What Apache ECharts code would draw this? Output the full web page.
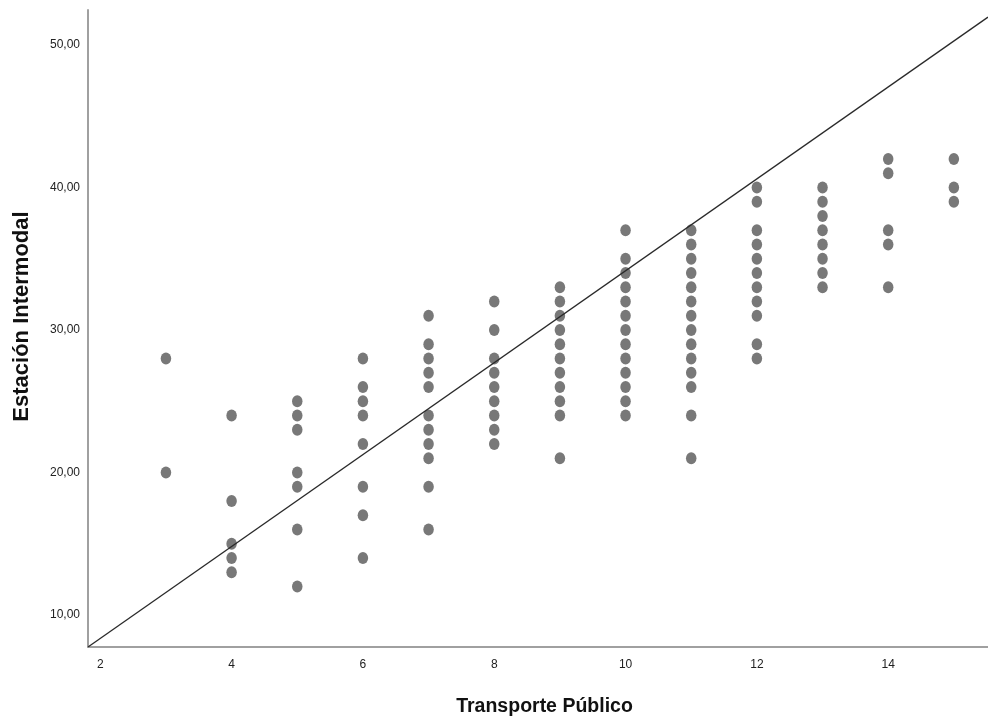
<!DOCTYPE html>
<html>
<head>
<meta charset="utf-8">
<script src="https://cdn.jsdelivr.net/npm/echarts@6/dist/echarts.min.js"></script>
<style>html,body{margin:0;padding:0;background:#fff}#c{width:988px;height:722px}</style>
</head>
<body>
<div id="c"></div>
<script>
// ---- data ----
var xCategories = [3, 4, 5, 6, 7, 8, 9, 10, 11, 12, 13, 14, 15];
var yAt3  = [28, 20];
var yAt4  = [24, 18, 15, 14, 13];
var yAt5  = [25, 24, 23, 20, 19, 16, 12];
var yAt6  = [28, 26, 25, 24, 22, 19, 17, 14];
var yAt7  = [31, 29, 28, 27, 26, 24, 23, 22, 21, 19, 16];
var yAt8  = [32, 30, 28, 27, 26, 25, 24, 23, 22];
var yAt9  = [33, 32, 31, 30, 29, 28, 27, 26, 25, 24, 21];
var yAt10 = [37, 35, 34, 33, 32, 31, 30, 29, 28, 27, 26, 25, 24];
var yAt11 = [37, 36, 35, 34, 33, 32, 31, 30, 29, 28, 27, 26, 24, 21];
var yAt12 = [40, 39, 37, 36, 35, 34, 33, 32, 31, 29, 28];
var yAt13 = [40, 39, 38, 37, 36, 35, 34, 33];
var yAt14 = [42, 41, 37, 36, 33];
var yAt15 = [42, 40, 39];
var yColumns = [yAt3, yAt4, yAt5, yAt6, yAt7, yAt8, yAt9, yAt10, yAt11, yAt12, yAt13, yAt14, yAt15];
var refLineX = [1.813, 15.52];
var refLineY = [7.76, 51.95];
var xTicks = [2, 4, 6, 8, 10, 12, 14];
var yTicks = [10, 20, 30, 40, 50];
var xRange = [1.813, 15.52];
var yRange = [7.76, 52.45];

// ---- build ----
var points = [];
xCategories.forEach(function (x, i) {
  yColumns[i].forEach(function (y) { points.push([x, y]); });
});
var linePts = [[refLineX[0], refLineY[0]], [refLineX[1], refLineY[1]]];

var chart = echarts.init(document.getElementById('c'), null, {renderer: 'canvas'});
var font = 'Liberation Sans, Arial, sans-serif';
chart.setOption({
  backgroundColor: '#ffffff',
  animation: false,
  grid: {left: 88, right: 0, top: 10, bottom: 74, containLabel: false},
  xAxis: {
    type: 'value', min: xRange[0], max: xRange[1],
    name: 'Transporte Público', nameLocation: 'middle', nameGap: 50,
    nameTextStyle: {fontFamily: font, fontSize: 19.5, fontWeight: 'bold', color: '#111', padding: [0, 0, 0, 13]},
    axisLine: {show: true, onZero: false, lineStyle: {color: '#a0a0a0', width: 2}},
    axisTick: {show: false},
    splitLine: {show: false},
    axisLabel: {customValues: xTicks, fontFamily: font, fontSize: 12, color: '#222', margin: 12,
      formatter: function (v) { return String(Math.round(v)); }}
  },
  yAxis: {
    type: 'value', min: yRange[0], max: yRange[1],
    name: 'Estación Intermodal', nameLocation: 'middle', nameGap: 55,
    nameTextStyle: {fontFamily: font, fontSize: 22, fontWeight: 'bold', color: '#111', padding: [0, 0, 0, 24]},
    axisLine: {show: true, onZero: false, lineStyle: {color: '#a0a0a0', width: 2}},
    axisTick: {show: false},
    splitLine: {show: false},
    axisLabel: {customValues: yTicks, fontFamily: font, fontSize: 12, color: '#222', margin: 8,
      formatter: function (v) { return Math.round(v) + ',00'; }}
  },
  series: [
    {
      type: 'scatter', data: points,
      symbol: 'path://M0,-1A1,1 0 1,1 0,1A1,1 0 1,1 0,-1Z',
      symbolKeepAspect: false,
      symbolSize: [10.5, 12],
      itemStyle: {color: '#787878', opacity: 1},
      z: 2
    },
    {
      type: 'line', data: linePts, symbol: 'none', silent: true,
      lineStyle: {color: '#2a2a2a', width: 1.3},
      z: 3
    }
  ]
});
</script>
</body>
</html>
